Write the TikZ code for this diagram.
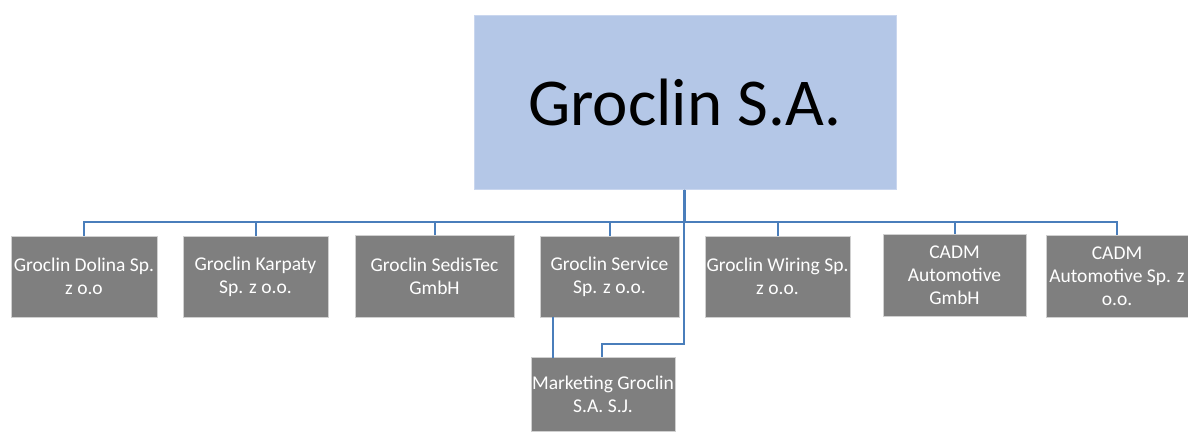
\documentclass[tikz,border=0pt]{standalone}
\usepackage{fontspec}
\setmainfont{Carlito}
\definecolor{topfill}{HTML}{B4C7E7}
\definecolor{topline}{HTML}{C9D6EE}
\definecolor{boxfill}{HTML}{7F7F7F}
\definecolor{boxline}{HTML}{D0D0D0}
\definecolor{connc}{HTML}{4A7EBB}
\tikzset{
  topbox/.style={draw=topline, line width=1pt, fill=topfill, inner sep=0pt,
    minimum width=422pt, minimum height=174pt, font=\fontsize{67}{70}\selectfont},
  subbox/.style={draw=boxline, line width=1pt, fill=boxfill, text=white, inner sep=0pt,
    minimum height=81pt, align=center, font=\fontsize{19.5}{23}\selectfont},
  conn/.style={draw=connc, line width=2pt},
}
\begin{document}
\begin{tikzpicture}[x=1pt,y=-1pt]
\useasboundingbox (0,0) rectangle (1188,431);
\node[topbox] (top) at (685,102) {Groclin S.A.};
\node[subbox, minimum width=146pt] (b1) at (84,276.5) {Groclin Dolina Sp.\\z o.o};
\node[subbox, minimum width=145pt] (b2) at (255.5,276.5) {Groclin Karpaty\\Sp. z o.o.};
\node[subbox, minimum width=159pt, minimum height=82pt] (b3) at (434.5,276) {Groclin SedisTec\\GmbH};
\node[subbox, minimum width=139pt] (b4) at (609.5,276.5) {Groclin Service\\Sp. z o.o.};
\node[subbox, minimum width=145pt] (b5) at (777.5,276.5) {Groclin Wiring Sp.\\z o.o.};
\node[subbox, minimum width=143pt, minimum height=82pt] (b6) at (954.5,275) {CADM\\Automotive\\GmbH};
\node[subbox, minimum width=142pt, minimum height=82pt] (b7) at (1117,276) {CADM\\Automotive Sp. z\\o.o.};
\node[subbox, minimum width=144pt, minimum height=74pt] (mk) at (603,394) {Marketing Groclin\\S.A. S.J.};
\coordinate (busy) at (0,222);
\coordinate (mkj) at (0,344);
\foreach \b in {b1,b2,b3,b4,b5,b6,b7}{
  \draw[conn] ([xshift=-1pt]top.south) -- ([xshift=-1pt]top.south |- busy) -| (\b.north);
}
\draw[conn, line width=3pt] ([xshift=-1pt]top.south) -- ([xshift=-1pt]top.south |- busy);
\draw[conn] ([xshift=-1pt]top.south) -- ([xshift=-1pt]top.south |- mkj) -| ([xshift=-1pt]mk.north);
\draw[conn] ([xshift=-56.5pt,yshift=1pt]b4.south) -- ([xshift=-56.5pt,yshift=-1pt]b4.south |- mk.north);
\end{tikzpicture}
\end{document}
